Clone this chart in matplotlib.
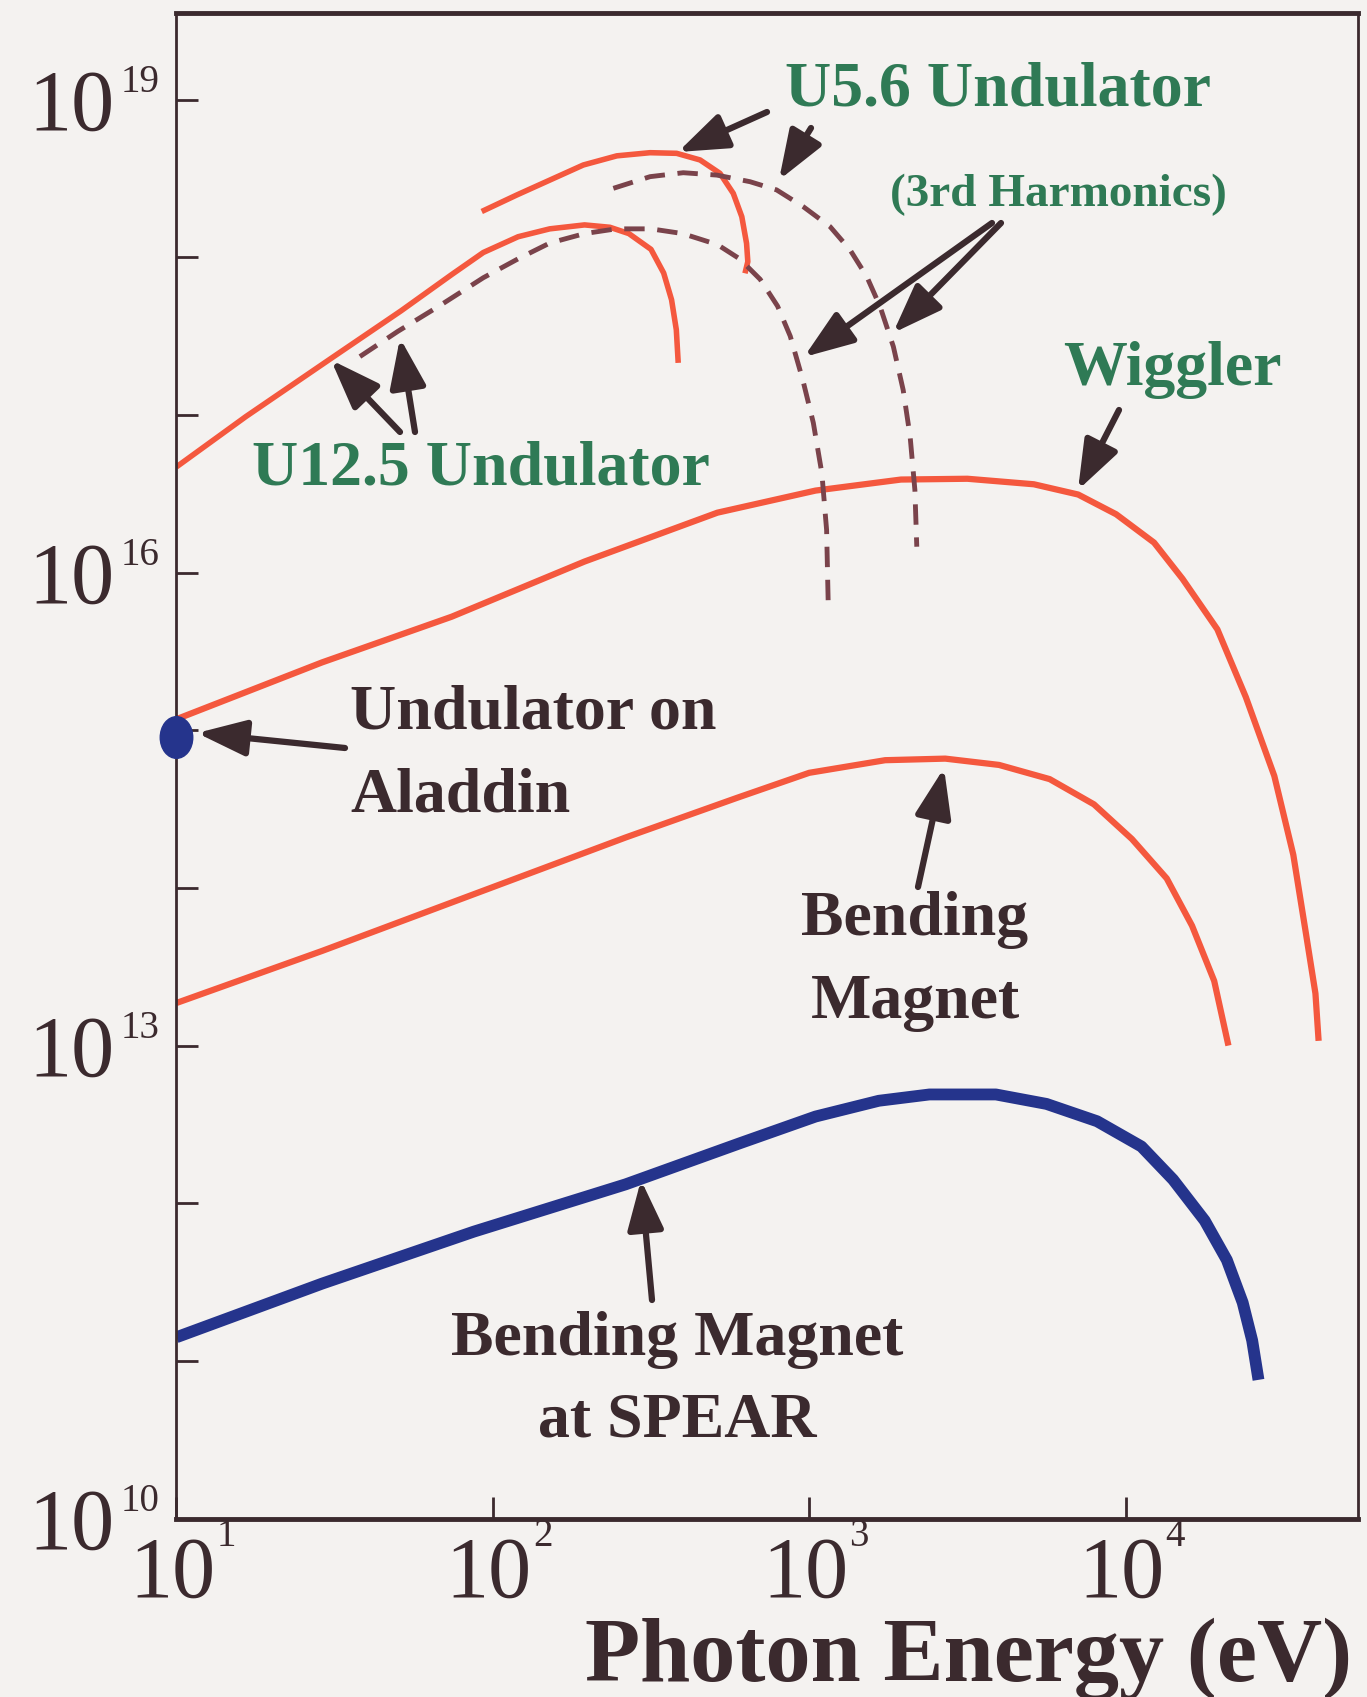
import numpy as np
import matplotlib
matplotlib.use('Agg')
import matplotlib.pyplot as plt
from matplotlib.path import Path
from matplotlib.transforms import Affine2D

# log10 of photon energy (eV) and brightness
u125_log_e = [1.00, 1.22, 1.49, 1.71, 1.87, 1.97, 2.08, 2.18, 2.29, 2.37, 2.43, 2.50, 2.54, 2.565, 2.58, 2.586]
u125_log_b = [16.67, 16.99, 17.36, 17.66, 17.89, 18.03, 18.13, 18.18, 18.205, 18.19, 18.15, 18.05, 17.90, 17.73, 17.54, 17.33]

u125_h3_log_e = [1.58, 1.70, 1.83, 1.97, 2.08, 2.18, 2.29, 2.39, 2.50, 2.60, 2.71, 2.78, 2.845, 2.90, 2.94,
                 2.98, 3.013, 3.04, 3.055, 3.06]
u125_h3_log_b = [17.37, 17.53, 17.69, 17.87, 17.99, 18.09, 18.15, 18.18, 18.18, 18.15, 18.08, 17.99, 17.86, 17.69,
                 17.50, 17.22, 16.95, 16.63, 16.27, 15.81]

u56_log_e = [1.965, 2.076, 2.181, 2.286, 2.392, 2.497, 2.581, 2.655, 2.718, 2.760, 2.787, 2.802, 2.806, 2.797]
u56_log_b = [18.29, 18.395, 18.49, 18.585, 18.643, 18.663, 18.659, 18.617, 18.532, 18.405, 18.257, 18.088, 17.972, 17.898]

u56_h3_log_e = [2.381, 2.497, 2.602, 2.708, 2.813, 2.897, 2.981, 3.066, 3.129, 3.182, 3.224, 3.266, 3.297, 3.319,
                3.334, 3.340]
u56_h3_log_b = [18.437, 18.511, 18.536, 18.521, 18.479, 18.427, 18.321, 18.194, 18.047, 17.877, 17.687, 17.433,
                17.158, 16.862, 16.524, 16.164]

wiggler_log_e = [1.00, 1.46, 1.87, 2.29, 2.71, 3.02, 3.29, 3.50, 3.71, 3.85, 3.97, 4.09, 4.18, 4.29, 4.38, 4.47,
                 4.53, 4.57, 4.60, 4.61]
wiggler_log_b = [15.07, 15.43, 15.72, 16.07, 16.38, 16.52, 16.59, 16.595, 16.56, 16.495, 16.37, 16.19, 15.96,
                 15.64, 15.21, 14.71, 14.21, 13.71, 13.33, 13.03]

bm_log_e = [1.00, 1.46, 1.94, 2.42, 2.77, 3.00, 3.24, 3.43, 3.60, 3.76, 3.90, 4.02, 4.13, 4.21, 4.28, 4.325]
bm_log_b = [13.27, 13.60, 13.96, 14.32, 14.57, 14.73, 14.81, 14.82, 14.78, 14.69, 14.53, 14.31, 14.06, 13.76, 13.41, 13.00]

spear_log_e = [1.00, 1.46, 1.94, 2.42, 2.78, 3.02, 3.22, 3.38, 3.59, 3.75, 3.91, 4.05, 4.15, 4.25, 4.32, 4.37, 4.40, 4.42]
spear_log_b = [11.15, 11.49, 11.82, 12.12, 12.38, 12.55, 12.65, 12.69, 12.69, 12.63, 12.52, 12.36, 12.15, 11.89,
               11.64, 11.37, 11.13, 10.88]

aladdin_log_e = 1.0
aladdin_log_b = 14.96

x_tick_exps = [1, 2, 3, 4]
y_tick_exps = [10, 11, 12, 13, 14, 15, 16, 17, 18, 19]
y_label_exps = [10, 13, 16, 19]

RED = '#f4583e'
MAROON = '#7a434b'
BLUE = '#25348c'
GREEN = '#2f7a55'
DARK = '#3b2a2e'
BG = '#f4f2f0'
SERIF = 'Liberation Serif'

plt.rcParams['font.family'] = SERIF

fig = plt.figure(figsize=(13.67, 16.97), dpi=100, facecolor=BG)
ax = fig.add_axes([0.12904, 0.10513, 0.86438, 0.88721], facecolor=BG)


def lg(vals):
    return 10 ** np.asarray(vals, dtype=float)


# reference pixel position -> axes fraction (for labels and arrows)
def ref(x, y):
    return ((x - 176.4) / 1181.6, (1518.6 - y) / 1505.6)


ax.plot(lg(wiggler_log_e), lg(wiggler_log_b), color=RED, lw=4.5, solid_capstyle='butt')
ax.plot(lg(bm_log_e), lg(bm_log_b), color=RED, lw=4.5, solid_capstyle='butt')
ax.plot(lg(u125_log_e), lg(u125_log_b), color=RED, lw=4.0, solid_capstyle='butt')
ax.plot(lg(u56_log_e), lg(u56_log_b), color=RED, lw=4.0, solid_capstyle='butt')
ax.plot(lg(u125_h3_log_e), lg(u125_h3_log_b), color=MAROON, lw=3.5, dashes=(4.2, 2.6))
ax.plot(lg(u56_h3_log_e), lg(u56_h3_log_b), color=MAROON, lw=3.5, dashes=(4.2, 2.6))
ax.plot(lg(spear_log_e), lg(spear_log_b), color=BLUE, lw=8.5, solid_capstyle='butt')

oval = Path.unit_circle().transformed(Affine2D().scale(0.78, 1.0))
ax.plot([10 ** aladdin_log_e], [10 ** aladdin_log_b], linestyle='none', marker=oval,
        color=BLUE, ms=30, clip_on=False, zorder=5)

ax.set_xscale('log')
ax.set_yscale('log')
ax.set_xlim(10, 10 ** 4.7345)
ax.set_ylim(1e10, 10 ** 19.549)

ax.set_xticks([10.0 ** e for e in x_tick_exps])
ax.set_yticks([10.0 ** e for e in y_tick_exps])
ax.xaxis.set_minor_locator(matplotlib.ticker.NullLocator())
ax.yaxis.set_minor_locator(matplotlib.ticker.NullLocator())
ax.set_xticklabels([])
ax.set_yticklabels([])
ax.tick_params(direction='in', length=16, width=2, color=DARK, top=False, right=False)

for side, w in [('left', 2.0), ('right', 2.0), ('top', 3.5), ('bottom', 3.5)]:
    ax.spines[side].set_linewidth(w)
    ax.spines[side].set_color(DARK)

# power-of-ten labels drawn as "10" plus a small exponent
for e in x_tick_exps:
    ax.annotate('10', xy=(10.0 ** e, 0), xycoords=ax.get_xaxis_transform(),
                xytext=(-2.9, -56.0), textcoords='offset points',
                ha='center', va='baseline', fontsize=62, color=DARK, annotation_clip=False)
    ax.annotate(str(e), xy=(10.0 ** e, 0), xycoords=ax.get_xaxis_transform(),
                xytext=(28.8, -19.5), textcoords='offset points',
                ha='left', va='baseline', fontsize=28, color=DARK, annotation_clip=False)
for e in y_label_exps:
    ax.annotate('10', xy=(0, 10.0 ** e), xycoords=ax.get_yaxis_transform(),
                xytext=(-44.6, -21.6), textcoords='offset points',
                ha='right', va='baseline', fontsize=62, color=DARK, annotation_clip=False)
    ax.annotate(str(e), xy=(0, 10.0 ** e), xycoords=ax.get_yaxis_transform(),
                xytext=(-40.3, 5.8), textcoords='offset points',
                ha='left', va='baseline', fontsize=28, color=DARK, annotation_clip=False)

ax.set_xlabel('Photon Energy (eV)', fontsize=65, fontweight='bold', color=DARK, loc='right')
ax.xaxis.set_label_coords(0.995, -0.0655)

# curve labels
labels = [
    ('U5.6 Undulator', 998, 106, 'center', GREEN, 46),
    ('(3rd Harmonics)', 1058, 206, 'center', GREEN, 34),
    ('Wiggler', 1172, 385, 'center', GREEN, 46),
    ('U12.5 Undulator', 481, 485, 'center', GREEN, 46),
    ('Undulator on', 350, 729, 'left', DARK, 46),
    ('Aladdin', 350, 812, 'left', DARK, 46),
    ('Bending', 915, 935, 'center', DARK, 46),
    ('Magnet', 915, 1018, 'center', DARK, 46),
    ('Bending Magnet', 677, 1355, 'center', DARK, 46),
    ('at SPEAR', 677, 1437, 'center', DARK, 46),
]
for s, x, y, ha, c, fs in labels:
    fx, fy = ref(x, y)
    ax.text(fx, fy, s, transform=ax.transAxes, ha=ha, va='baseline',
            fontsize=fs, fontweight='bold', color=c)

# arrows: (tail, tip) in reference pixels
arrows = [
    ((767, 112), (678, 152)),
    ((811, 128), (779, 180)),
    ((992, 223), (804, 357)),
    ((1001, 223), (893, 333)),
    ((1119, 410), (1078, 490)),
    ((400, 432), (331, 360)),
    ((415, 432), (400, 338)),
    ((345, 748), (197, 733)),
    ((918, 887), (944, 768)),
    ((652, 1300), (641, 1180)),
]
for tail, tip in arrows:
    ax.annotate('', xy=ref(*tip), xycoords='axes fraction',
                xytext=ref(*tail), textcoords='axes fraction',
                arrowprops=dict(arrowstyle='-|>,head_length=1.5,head_width=0.55',
                                mutation_scale=20, lw=4.5, color=DARK,
                                shrinkA=0, shrinkB=0))

fig.savefig('out.png', dpi=100, facecolor=BG)
